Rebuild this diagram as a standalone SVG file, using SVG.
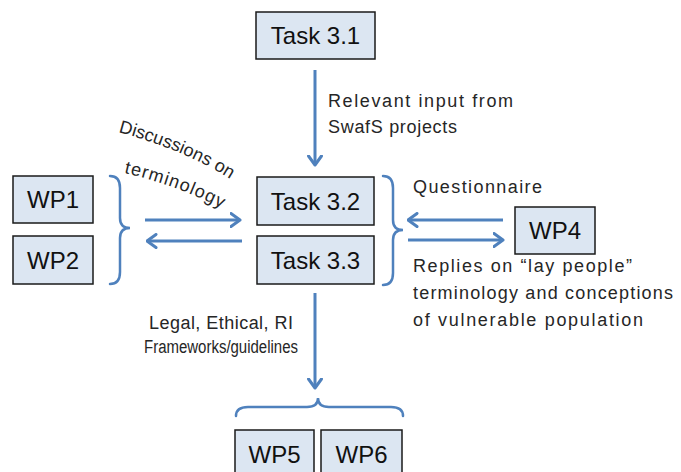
<svg xmlns="http://www.w3.org/2000/svg" width="681" height="472" viewBox="0 0 681 472">
<style>
.box{fill:#dce6f2;stroke:#1a1a1a;stroke-width:1.5}
.bt{font-family:"Liberation Sans",Arial,sans-serif;font-size:24px;fill:#111;text-anchor:middle}
.lb{font-family:"Liberation Sans",Arial,sans-serif;font-size:18px;fill:#262626}
.ar{stroke:#4f81bd;stroke-width:3;fill:none;marker-end:url(#ah)}
.br{stroke:#4f81bd;stroke-width:2.5;fill:none;stroke-linecap:round}
</style>
<defs>
<marker id="ah" markerUnits="userSpaceOnUse" viewBox="0 0 12 16" markerWidth="12" markerHeight="16" refX="10.5" refY="8" orient="auto">
<path d="M1.5,1.5 L10.5,8 L1.5,14.5" fill="none" stroke="#4f81bd" stroke-width="3" stroke-linecap="round" stroke-linejoin="round"/>
</marker>
<path id="p1" d="M118,132 Q193,152 242,187"/>
<path id="p2" d="M124,173 Q182,186 234,215"/>
</defs>
<rect width="681" height="472" fill="#fff"/>
<g id="connectors">
<line class="ar" x1="315" y1="70" x2="315" y2="165"/>
<line class="ar" x1="145" y1="220" x2="240" y2="220"/>
<line class="ar" x1="242" y1="241" x2="147" y2="241"/>
<line class="ar" x1="503" y1="220" x2="408" y2="220"/>
<line class="ar" x1="408" y1="240" x2="503" y2="240"/>
<line class="ar" x1="315" y1="293" x2="315" y2="388"/>
<path class="br" d="M110,176 Q120,176 120,188 L120,218 Q120,228 130,228 Q120,228 120,238 L120,272 Q120,284 110,284"/>
<path class="br" d="M383,176 Q393,176 393,188 L393,220 Q393,230 403,230 Q393,230 393,240 L393,273 Q393,285 383,285"/>
<path class="br" d="M236,416 Q236,407 248,407 L307,407 Q318,407 318,398 Q318,407 329,407 L391,407 Q403,407 403,416"/>
</g>
<g id="labels">
<text class="lb" x="328" y="107" textLength="185" lengthAdjust="spacing">Relevant input from</text>
<text class="lb" x="328" y="133" textLength="129" lengthAdjust="spacing">SwafS projects</text>
<text class="lb"><textPath href="#p1" textLength="122">Discussions on</textPath></text>
<text class="lb"><textPath href="#p2" textLength="104">terminology</textPath></text>
<text class="lb" x="413" y="193" textLength="129" lengthAdjust="spacing">Questionnaire</text>
<text class="lb" x="413" y="272" textLength="219" lengthAdjust="spacing">Replies on “lay people”</text>
<text class="lb" x="413" y="299" textLength="260" lengthAdjust="spacing">terminology and conceptions</text>
<text class="lb" x="413" y="326" textLength="230" lengthAdjust="spacing">of vulnerable population</text>
<text class="lb" x="149" y="329" textLength="144" lengthAdjust="spacing">Legal, Ethical, RI</text>
<text class="lb" x="144" y="353" font-size="17.5" textLength="154" lengthAdjust="spacingAndGlyphs">Frameworks/guidelines</text>
</g>
<g id="task31"><rect class="box" x="256" y="12" width="119" height="47"/><text class="bt" x="315.5" y="44">Task 3.1</text></g>
<g id="task32"><rect class="box" x="257" y="177" width="117" height="48"/><text class="bt" x="315.5" y="209.5">Task 3.2</text></g>
<g id="task33"><rect class="box" x="257" y="236" width="117" height="48"/><text class="bt" x="315.5" y="268.5">Task 3.3</text></g>
<g id="wp1"><rect class="box" x="13" y="176" width="80" height="47"/><text class="bt" x="53" y="208">WP1</text></g>
<g id="wp2"><rect class="box" x="13" y="236" width="80" height="48"/><text class="bt" x="53" y="268.5">WP2</text></g>
<g id="wp4"><rect class="box" x="515" y="207" width="80" height="47"/><text class="bt" x="555" y="239">WP4</text></g>
<g id="wp5"><rect class="box" x="235" y="430" width="79" height="50"/><text class="bt" x="274.5" y="463">WP5</text></g>
<g id="wp6"><rect class="box" x="321" y="430" width="81" height="50"/><text class="bt" x="361.5" y="463">WP6</text></g>
</svg>
